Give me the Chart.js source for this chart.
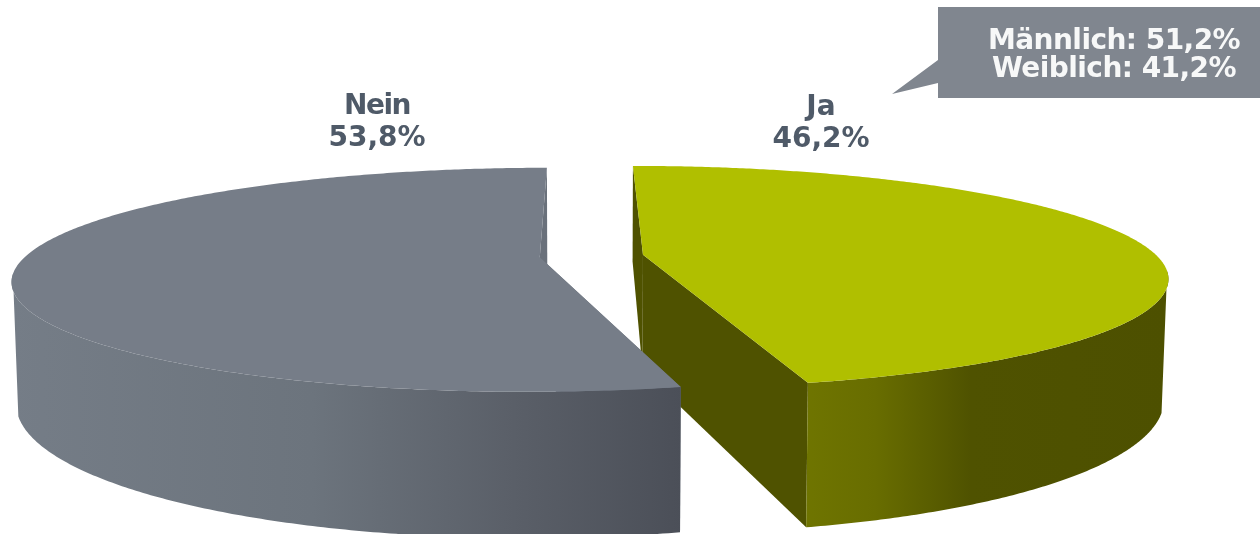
<!DOCTYPE html>
<html>
<head>
<meta charset="utf-8">
<style>
  body { margin: 0; background: #fff; overflow: hidden; }
  canvas { display: block; }
</style>
<script src="https://cdn.jsdelivr.net/npm/chart.js@4/dist/chart.umd.min.js"></script>
</head>
<body>
<canvas id="pieChart" width="1260" height="534"></canvas>
<script>
// data
const categories = ['Ja', 'Nein'];
const shares = [46.2, 53.8];
const calloutLabels = ['Männlich', 'Weiblich'];
const calloutValues = [51.2, 41.2];

const topColors = ['#b0bf00', '#767d88'];
const wallColors = ['#4f5200', '#6a717b'];

const percent = v => v.toFixed(1).replace('.', ',') + '%';

// perspective settings for the tilted pie
const tilt = 0.2;
const topScale = { x: 1, y: 107 / 514, drop: 0 };
const bottomScale = { x: 0.992, y: 131 / 514, drop: 116 };

function project(arc, u, v, plane) {
    const w = 1 - tilt * v / arc.outerRadius;
    return [arc.x + plane.x * u / w, arc.y + plane.drop + plane.y * v / w];
}

function rimPoint(arc, angle, plane, shift) {
    const u = shift[0] + arc.outerRadius * Math.cos(angle);
    const v = shift[1] + arc.outerRadius * Math.sin(angle);
    return project(arc, u, v, plane);
}

function fillPolygon(ctx, points, fill) {
    ctx.beginPath();
    points.forEach((p, i) => (i ? ctx.lineTo(p[0], p[1]) : ctx.moveTo(p[0], p[1])));
    ctx.closePath();
    ctx.fillStyle = fill;
    ctx.fill();
}

function wallGradient(ctx, index) {
    if (index === 0) {
        const g = ctx.createLinearGradient(802, 0, 1170, 0);
        g.addColorStop(0, '#6f7500');
        g.addColorStop(0.2, '#686d00');
        g.addColorStop(0.46, '#4f5200');
        g.addColorStop(1, '#4d5000');
        return g;
    }
    const g = ctx.createLinearGradient(10, 0, 682, 0);
    g.addColorStop(0, '#757d87');
    g.addColorStop(0.45, '#6c747d');
    g.addColorStop(0.75, '#5a5f68');
    g.addColorStop(1, '#4b4f58');
    return g;
}

function drawSlice(ctx, arc, index, offset) {
    const { startAngle, endAngle } = arc.getProps(['startAngle', 'endAngle']);
    const half = (startAngle + endAngle) / 2;
    const shift = [Math.cos(half) * offset / 2, Math.sin(half) * offset / 2];
    const steps = 360;
    const top = [];
    const wallTop = [];
    const wallBottom = [];
    for (let i = 0; i <= steps; i++) {
        const a = startAngle + (endAngle - startAngle) * i / steps;
        const p = rimPoint(arc, a, topScale, shift);
        top.push(p);
        // front of the rim only, the back is hidden behind the top face
        if (Math.sin(a) > 0.15) wallTop.push(p);
        if (Math.sin(a) > 0.3) wallBottom.push(rimPoint(arc, a, bottomScale, shift));
    }
    const centerTop = project(arc, shift[0], shift[1], topScale);
    const centerBottom = project(arc, shift[0], shift[1], bottomScale);
    const farBottom = rimPoint(arc, startAngle, bottomScale, shift);
    const endBottom = rimPoint(arc, endAngle, bottomScale, shift);

    // the two cut faces
    fillPolygon(ctx, [centerTop, top[0], farBottom, centerBottom], wallColors[index]);
    fillPolygon(ctx, [centerTop, top[steps], endBottom, centerBottom], wallColors[index]);

    // outer wall, then the top face
    fillPolygon(ctx, wallTop.concat(wallBottom.reverse()), wallGradient(ctx, index));
    fillPolygon(ctx, [centerTop].concat(top), topColors[index]);
}

const tiltedPie = {
    id: 'tiltedPie',
    beforeDatasetsDraw(chart) {
        const meta = chart.getDatasetMeta(0);
        meta.data.forEach((arc, i) => drawSlice(chart.ctx, arc, i, chart.data.datasets[0].offset));
        return false;
    },
    afterDraw(chart) {
        const ctx = chart.ctx;
        ctx.save();
        ctx.textAlign = 'center';
        ctx.textBaseline = 'alphabetic';
        ctx.font = 'bold 28px "DejaVu Sans"';

        // slice labels
        ctx.fillStyle = '#4f5a68';
        ctx.fillText(categories[0], 821, 114.5);
        ctx.fillText(percent(shares[0]), 821, 147);
        ctx.fillText(percent(shares[1]), 377, 146);
        ctx.letterSpacing = '-1.5px';
        ctx.fillText(categories[1], 377, 113.5);

        // callout box
        fillPolygon(ctx, [[938, 7], [1260, 7], [1260, 98], [938, 98], [938, 83], [892, 94], [938, 60]], '#80868f');
        ctx.fillStyle = '#f7f8f8';
        ctx.letterSpacing = '-0.55px';
        calloutLabels.forEach((name, i) => {
            ctx.fillText(name + ': ' + percent(calloutValues[i]), 1114, 49 + i * 27.5);
        });
        ctx.restore();
    }
};

new Chart(document.getElementById('pieChart'), {
    type: 'pie',
    data: {
        labels: categories,
        datasets: [{
            data: shares,
            backgroundColor: topColors,
            borderWidth: 0,
            offset: 104,
            clip: false
        }]
    },
    options: {
        responsive: false,
        animation: false,
        rotation: -0.2,
        radius: 514,
        layout: { padding: { right: 77, bottom: 22 } },
        plugins: { legend: { display: false }, tooltip: { enabled: false } }
    },
    plugins: [tiltedPie]
});
</script>
</body>
</html>
